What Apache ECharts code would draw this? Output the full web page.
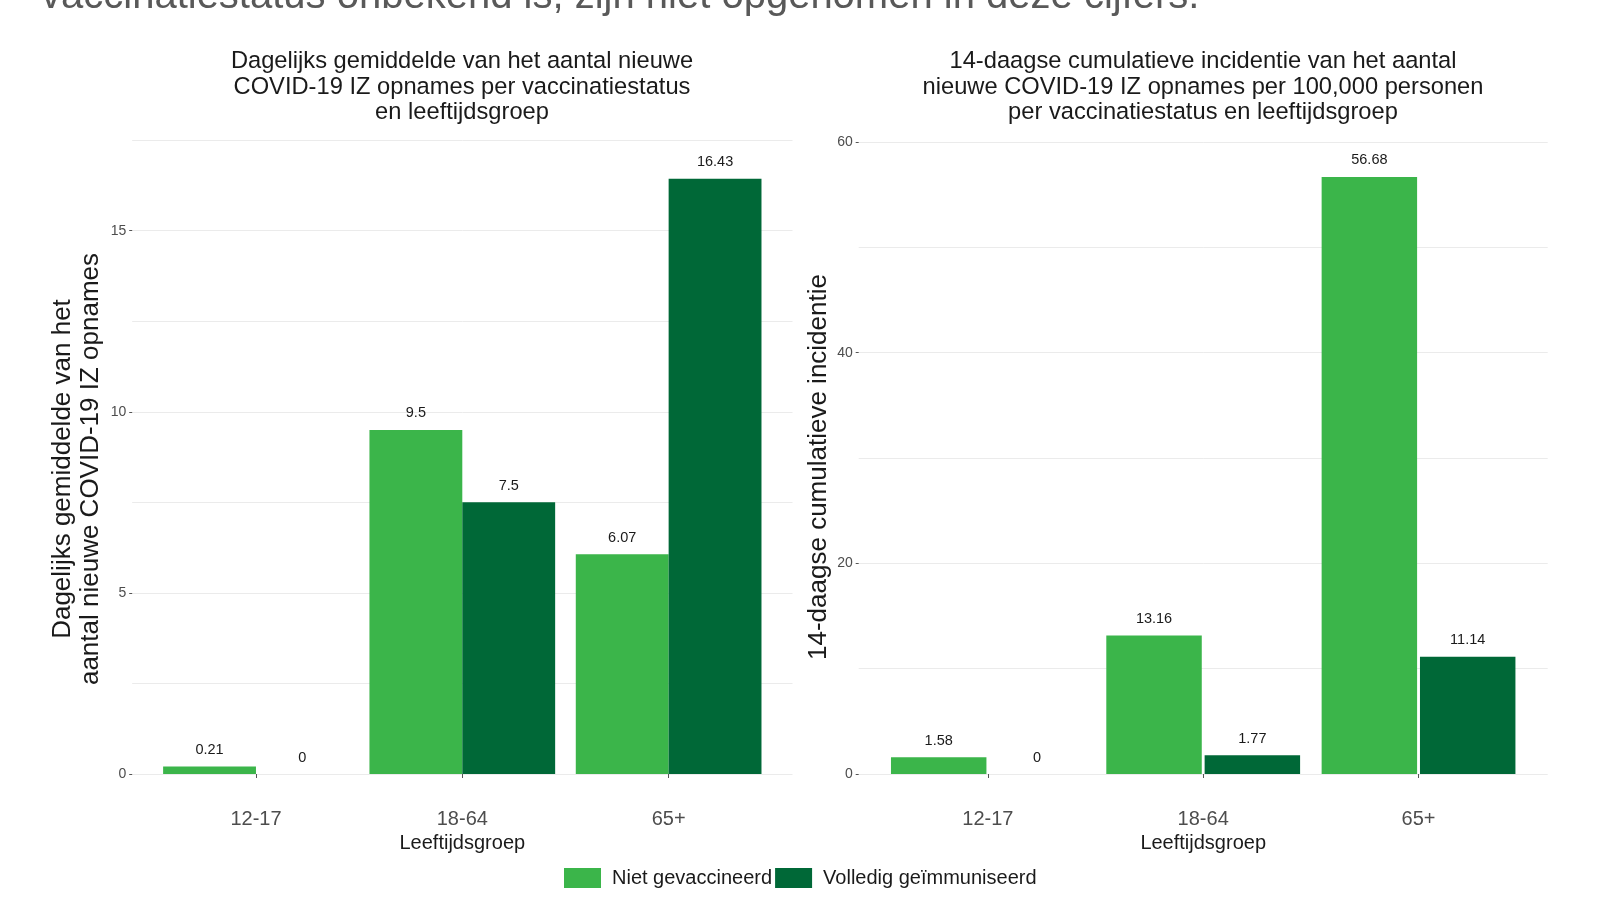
<!DOCTYPE html>
<html>
<head>
<meta charset="utf-8">
<title>IZ opnames per vaccinatiestatus</title>
<script src="https://cdn.jsdelivr.net/npm/echarts@6/dist/echarts.min.js"></script>
<style>
	html, body { margin: 0; padding: 0; background: #fff; }
	#mainChart { width: 1598px; height: 904px; }
</style>
</head>
<body>
<div id="mainChart"></div>
<script>
/** ----------------数据------------------------- */
var categories = ['12-17', '18-64', '65+'];
var seriesNames = ['Niet gevaccineerd', 'Volledig geïmmuniseerd'];
// links: dagelijks gemiddelde
var dagNiet = [0.21, 9.5, 6.07];
var dagVolledig = [0, 7.5, 16.43];
var dagTicks = [0, 5, 10, 15];
// rechts: 14-daagse cumulatieve incidentie per 100,000
var incNiet = [1.58, 13.16, 56.68];
var incVolledig = [0, 1.77, 11.14];
var incTicks = [0, 20, 40, 60];

var colorNiet = '#3bb54a';
var colorVolledig = '#006837';
var fontName = '"Liberation Sans", Arial, sans-serif';

window.onload = function() {
	initChart();
};

/** --------achtergrond-as: labels + streepjes ------ */
function labelYAxis(gridIndex, max, ticks) {
	return {
		type : 'value',
		gridIndex : gridIndex,
		min : 0,
		max : max,
		axisLine : { show : false },
		axisTick : { show : true, length : 3, customValues : ticks, lineStyle : { color : '#555' } },
		axisLabel : {
			margin : 6,
			fontSize : 14,
			color : '#4d4d4d',
			fontFamily : fontName,
			customValues : ticks
		},
		splitLine : { show : false }
	};
}

/** --------achtergrond-as: alleen rasterlijnen (ook de tussenlijnen) ------ */
function gridYAxis(gridIndex, max, interval) {
	return {
		type : 'value',
		gridIndex : gridIndex,
		position : 'left',
		min : 0,
		max : max,
		interval : interval,
		axisLine : { show : false },
		axisTick : { show : false },
		axisLabel : { show : false },
		splitLine : { show : true, lineStyle : { color : '#ebebeb', width : 1 } }
	};
}

// voorgrond-as: onderkant van het paneel ligt onder de 0
function fgYAxis(gridIndex, min, max) {
	return {
		type : 'value', gridIndex : gridIndex, min : min, max : max,
		show : false, splitLine : { show : false }
	};
}

function catXAxis(gridIndex) {
	return {
		type : 'category',
		gridIndex : gridIndex,
		data : categories,
		axisLine : { show : false },
		axisTick : { show : true, alignWithLabel : true, length : 4, lineStyle : { color : '#555' } },
		axisLabel : { margin : 5, fontSize : 20, color : '#4d4d4d', fontFamily : fontName },
		name : 'Leeftijdsgroep',
		nameLocation : 'middle',
		nameGap : 28,
		nameTextStyle : { fontSize : 20, color : '#1a1a1a', fontFamily : fontName }
	};
}

function barSeries(name, data, axisIndex, color, gap) {
	return {
		name : name,
		type : 'bar',
		xAxisIndex : axisIndex,
		yAxisIndex : axisIndex,
		data : data,
		barGap : gap,
		barCategoryGap : '10%',
		itemStyle : { color : color },
		label : {
			show : true,
			position : 'top',
			distance : 9,
			fontSize : 14.5,
			color : '#1a1a1a',
			fontFamily : fontName
		}
	};
}

/** --------加载图表 ------ */
function initChart() {
	var chart = echarts.init(document.getElementById('mainChart'));
	var titleStyle = { fontSize : 23.7, fontWeight : 'normal', color : '#1a1a1a', lineHeight : 25.5, fontFamily : fontName };
	var option = {
		backgroundColor : '#fff',
		animation : false,
		textStyle : { fontFamily : fontName },
		title : [{
			text : 'Dagelijks gemiddelde van het aantal nieuwe\nCOVID-19 IZ opnames per vaccinatiestatus\nen leeftijdsgroep',
			left : 457,
			top : 44,
			textAlign : 'center',
			textStyle : titleStyle
		}, {
			text : '14-daagse cumulatieve incidentie van het aantal\nnieuwe COVID-19 IZ opnames per 100,000 personen\nper vaccinatiestatus en leeftijdsgroep',
			left : 1198,
			top : 44,
			textAlign : 'center',
			textStyle : titleStyle
		}],
		legend : {
			left : 559,
			top : 863,
			itemWidth : 37,
			itemHeight : 20,
			itemGap : 3,
			icon : 'rect',
			data : seriesNames,
			textStyle : { fontSize : 20, color : '#1a1a1a', padding : [0, 0, 0, 6], fontFamily : fontName }
		},
		grid : [
			{ left : 132.2, top : 140.1, width : 660.3, bottom : 130 },
			{ left : 152.8, top : 140.1, width : 619, bottom : 100 },
			{ left : 858.7, top : 142, width : 689, bottom : 130 },
			{ left : 880.2, top : 142, width : 646, bottom : 100 }
		],
		xAxis : [
			{ type : 'value', gridIndex : 0, min : 0, max : 1, show : false, splitLine : { show : false } },
			catXAxis(1),
			{ type : 'value', gridIndex : 2, min : 0, max : 1, show : false, splitLine : { show : false } },
			catXAxis(3)
		],
		yAxis : [
			labelYAxis(0, 17.5, dagTicks),
			fgYAxis(1, -0.828, 17.5),
			labelYAxis(2, 60, incTicks),
			fgYAxis(3, -2.848, 60),
			gridYAxis(0, 17.5, 2.5),
			gridYAxis(2, 60, 10)
		],
		series : [
			barSeries(seriesNames[0], dagNiet, 1, colorNiet, '0%'),
			barSeries(seriesNames[1], dagVolledig, 1, colorVolledig, '0%'),
			barSeries(seriesNames[0], incNiet, 3, colorNiet, '3%'),
			barSeries(seriesNames[1], incVolledig, 3, colorVolledig, '3%')
		],
		graphic : [{
			type : 'text',
			left : 41,
			top : -23,
			style : {
				text : 'vaccinatiestatus onbekend is, zijn niet opgenomen in deze cijfers.',
				fontSize : 40,
				fill : '#595959',
				fontFamily : fontName
			}
		}, {
			type : 'text',
			x : 76.5,
			y : 469,
			rotation : Math.PI / 2,
			style : {
				text : 'Dagelijks gemiddelde van het\naantal nieuwe COVID-19 IZ opnames',
				fontSize : 26,
				lineHeight : 28,
				fill : '#1a1a1a',
				align : 'center',
				verticalAlign : 'middle',
				fontFamily : fontName
			}
		}, {
			type : 'text',
			x : 818.5,
			y : 467,
			rotation : Math.PI / 2,
			style : {
				text : '14-daagse cumulatieve incidentie',
				fontSize : 26,
				fill : '#1a1a1a',
				align : 'center',
				verticalAlign : 'middle',
				fontFamily : fontName
			}
		}]
	};
	chart.setOption(option);

	window.onresize = function () {
		chart.resize();
	};
}
</script>
</body>
</html>
